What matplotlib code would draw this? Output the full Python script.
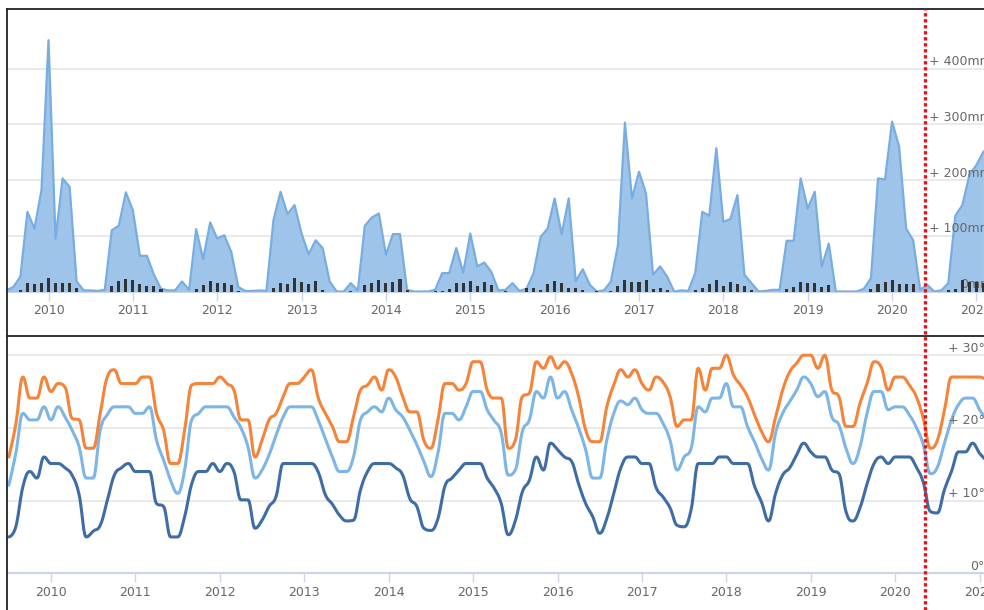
import matplotlib.pyplot as plt
from matplotlib.lines import Line2D
from matplotlib.transforms import blended_transform_factory
import numpy as np

plt.rcParams['font.family'] = ['DejaVu Sans']

# monthly values, July 2009 .. February 2021
first_month = 2009.5

precip_mm = [2, 8, 27, 143, 113, 182, 451, 95, 203, 188, 18, 2,
             2, 1, 3, 110, 118, 178, 146, 64, 64, 30, 5, 2,
             2, 18, 3, 112, 58, 124, 95, 101, 71, 8, 1, 1,
             2, 1, 128, 179, 139, 155, 104, 67, 92, 78, 18, 0,
             0, 15, 2, 118, 133, 140, 66, 103, 103, 3, 0, 0,
             0, 3, 33, 33, 78, 34, 104, 45, 52, 35, 2, 3,
             15, 1, 5, 33, 98, 113, 167, 103, 167, 19, 40, 12,
             0, 2, 18, 83, 303, 167, 215, 176, 30, 45, 27, 0,
             2, 1, 33, 143, 136, 257, 125, 130, 173, 30, 15, 0,
             1, 3, 3, 91, 91, 203, 149, 179, 45, 86, 0, 0,
             0, 0, 5, 24, 203, 201, 305, 260, 113, 92, 3, 12,
             0, 2, 15, 136, 155, 209, 227, 251]

rain_days = [0, 0, 2, 9, 8, 9, 14, 9, 9, 9, 4, 0,
             0, 0, 0, 6, 11, 13, 12, 8, 6, 6, 3, 0,
             0, 0, 0, 3, 7, 11, 9, 9, 7, 1, 0, 0,
             0, 0, 4, 9, 8, 14, 10, 8, 11, 2, 0, 0,
             0, 1, 0, 7, 9, 12, 9, 10, 13, 2, 0, 0,
             0, 1, 1, 3, 9, 9, 11, 6, 10, 7, 0, 1,
             0, 0, 4, 4, 2, 8, 11, 9, 4, 4, 2, 0,
             1, 0, 1, 6, 12, 10, 10, 12, 3, 4, 2, 0,
             0, 0, 2, 4, 8, 12, 6, 10, 8, 6, 2, 0,
             0, 0, 0, 3, 5, 10, 9, 9, 5, 7, 0, 0,
             0, 0, 0, 3, 8, 10, 12, 8, 8, 8, 0, 0,
             0, 0, 2, 3, 12, 10, 10, 9]

t_max = [16.0, 20.5, 27.0, 24.1, 24.1, 27.0, 25.0, 26.1, 25.6, 21.3, 21.1, 17.2,
         17.2, 22.0, 27.0, 28.0, 26.1, 26.1, 26.1, 27.0, 27.0, 22.0, 19.7, 15.1,
         15.1, 19.7, 25.9, 26.1, 26.1, 26.1, 27.0, 26.1, 25.2, 21.1, 21.1, 16.0,
         18.3, 21.1, 22.0, 24.3, 26.1, 26.1, 27.0, 28.0, 24.1, 22.0, 20.2, 18.1,
         18.1, 21.5, 25.2, 25.9, 27.0, 25.2, 28.0, 27.0, 24.3, 22.2, 22.2, 18.3,
         17.2, 21.1, 26.1, 26.1, 25.2, 26.1, 29.1, 29.1, 25.2, 24.1, 24.1, 17.2,
         18.3, 24.3, 24.8, 29.1, 28.2, 29.8, 28.2, 29.1, 27.5, 24.3, 19.7, 18.1,
         18.1, 22.9, 25.9, 28.0, 27.0, 28.0, 26.1, 25.2, 27.0, 26.3, 24.3, 20.2,
         21.1, 21.1, 28.2, 25.2, 28.2, 28.2, 30.0, 27.3, 25.9, 24.3, 21.8, 19.5,
         18.1, 21.5, 25.2, 27.7, 28.9, 30.0, 30.0, 28.2, 30.0, 25.2, 24.3, 20.2,
         20.2, 23.4, 26.1, 29.1, 28.4, 25.2, 27.0, 27.0, 25.9, 24.3, 21.3, 17.2,
         18.3, 22.4, 27.0, 27.0, 27.0, 27.0, 27.0, 26.6]

t_mean = [12.1, 16.5, 22.0, 21.1, 21.1, 22.9, 21.1, 22.9, 21.5, 19.7, 17.4, 13.1,
          13.1, 19.7, 21.8, 22.9, 22.9, 22.9, 22.0, 22.0, 22.9, 18.3, 15.6, 12.8,
          11.0, 14.2, 21.1, 22.0, 22.9, 22.9, 22.9, 22.9, 21.5, 20.0, 17.4, 13.1,
          14.2, 16.3, 19.0, 21.5, 22.9, 22.9, 22.9, 22.9, 21.0, 18.5, 16.0, 14.0,
          14.0, 16.0, 21.1, 22.2, 22.9, 22.2, 24.1, 22.5, 21.5, 19.7, 17.7, 15.4,
          13.3, 16.5, 22.0, 22.0, 21.1, 22.9, 25.0, 25.0, 22.5, 21.0, 19.3, 13.5,
          14.2, 19.5, 21.1, 25.0, 24.1, 27.0, 24.1, 25.0, 22.5, 20.0, 17.0, 13.1,
          13.1, 18.3, 22.0, 23.7, 23.2, 24.1, 22.5, 22.0, 22.0, 20.6, 18.3, 14.2,
          16.0, 17.2, 22.9, 22.2, 24.1, 24.1, 26.1, 22.9, 22.9, 20.2, 18.1, 15.8,
          14.2, 19.3, 22.0, 23.6, 25.2, 27.0, 26.1, 24.3, 25.0, 21.5, 20.4, 17.2,
          15.1, 17.4, 22.0, 25.0, 25.0, 22.5, 22.9, 22.9, 21.8, 20.1, 17.7, 13.7,
          14.6, 17.9, 21.1, 23.2, 24.1, 24.1, 22.5, 21.1]

t_min = [5.0, 6.4, 11.9, 14.0, 13.1, 16.0, 15.1, 15.1, 14.5, 13.5, 10.8, 5.0,
         5.8, 6.6, 10.0, 13.5, 14.5, 15.1, 14.0, 14.0, 14.0, 9.6, 9.2, 5.0,
         5.0, 7.8, 12.3, 14.0, 14.0, 15.1, 14.0, 15.1, 14.0, 10.1, 10.1, 6.2,
         7.3, 9.2, 10.6, 15.1, 15.1, 15.1, 15.1, 15.1, 13.9, 10.8, 9.5, 8.0,
         7.2, 7.3, 11.5, 14.0, 15.1, 15.1, 15.1, 14.5, 13.5, 10.3, 9.2, 6.2,
         5.9, 7.5, 12.0, 13.1, 14.2, 15.1, 15.1, 15.1, 13.1, 11.7, 9.6, 5.3,
         7.2, 11.2, 12.8, 16.0, 14.2, 17.9, 17.0, 16.0, 15.4, 12.3, 9.6, 7.8,
         5.5, 7.5, 11.0, 14.5, 16.0, 16.0, 15.1, 15.1, 11.8, 10.5, 9.0, 6.6,
         6.4, 8.8, 15.1, 15.1, 15.1, 16.0, 16.0, 15.1, 15.1, 15.1, 12.0, 9.8,
         7.2, 11.0, 13.5, 14.5, 16.3, 17.9, 16.7, 16.0, 16.0, 14.2, 13.7, 8.5,
         7.2, 9.0, 12.3, 15.1, 16.0, 15.1, 16.0, 16.0, 16.0, 14.6, 12.5, 8.5,
         8.3, 11.5, 14.0, 16.7, 16.7, 17.9, 16.5, 15.5]

years = list(range(2010, 2022))
precip_ticks = [100, 200, 300, 400]
temp_ticks = [10, 20, 30]
today = 2020.39


def spline(x, y, n=12):
    # highcharts-like smoothed curve through the monthly points
    x = np.asarray(x, float)
    y = np.asarray(y, float)
    k = len(x)
    lx, ly, rx, ry = x.copy(), y.copy(), x.copy(), y.copy()
    for i in range(1, k - 1):
        a = (1.5 * x[i] + x[i - 1]) / 2.5
        b = (1.5 * y[i] + y[i - 1]) / 2.5
        c = (1.5 * x[i] + x[i + 1]) / 2.5
        d = (1.5 * y[i] + y[i + 1]) / 2.5
        corr = (d - b) * (c - x[i]) / (c - a) + y[i] - d
        b += corr
        d += corr
        if b > y[i - 1] and b > y[i]:
            b = max(y[i - 1], y[i]); d = 2 * y[i] - b
        elif b < y[i - 1] and b < y[i]:
            b = min(y[i - 1], y[i]); d = 2 * y[i] - b
        if d > y[i + 1] and d > y[i]:
            d = max(y[i + 1], y[i]); b = 2 * y[i] - d
        elif d < y[i + 1] and d < y[i]:
            d = min(y[i + 1], y[i]); b = 2 * y[i] - d
        lx[i], ly[i], rx[i], ry[i] = a, b, c, d
    t = np.linspace(0, 1, n)[:, None]
    xs, ys = [], []
    for i in range(1, k):
        px = np.array([x[i - 1], rx[i - 1], lx[i], x[i]])
        py = np.array([y[i - 1], ry[i - 1], ly[i], y[i]])
        w = np.hstack([(1 - t) ** 3, 3 * (1 - t) ** 2 * t, 3 * (1 - t) * t ** 2, t ** 3])
        xs.append(w @ px)
        ys.append(w @ py)
    return np.concatenate(xs), np.concatenate(ys)


def main():
    W, H = 984, 610
    fig = plt.figure(figsize=(W / 100, H / 100), dpi=100)

    x = first_month + np.arange(len(precip_mm)) / 12
    xt = first_month + np.arange(len(t_max)) / 12

    axis_col = '#ccd6eb'
    grid_col = '#e6e6e6'
    text_col = '#666666'

    # precipitation panel
    ax1 = fig.add_axes([6.5 / W, 1 - 291.5 / H, 1003.5 / W, 282.5 / H])
    ax1.fill_between(x, precip_mm, color='#9fc4e9', lw=0)
    ax1.plot(x, precip_mm, color='#78ade2', lw=1.6)
    ax1.set_xlim(2009.502, 2021.398)
    ax1.set_ylim(0, 507)
    ax1.set_yticks(precip_ticks)
    ax1.grid(axis='y', color=grid_col, lw=1.2)
    ax1.set_axisbelow(True)

    axd = ax1.twinx()
    axd.bar(x, rain_days, width=0.036, color='#333333')
    axd.set_ylim(0, 282.5)
    axd.set_yticks([])
    for s in axd.spines.values():
        s.set_visible(False)

    # temperature panel
    ax2 = fig.add_axes([6.5 / W, 1 - 573.3 / H, 1003.5 / W, 237.3 / H])
    for vals, col in [(t_min, '#3e6ca6'), (t_mean, '#7db5e6'), (t_max, '#f5843a')]:
        sx, sy = spline(xt, vals)
        ax2.plot(sx, sy, color=col, lw=2.2, solid_capstyle='round')
    ax2.set_xlim(2009.473, 2021.360)
    ax2.set_ylim(0, 32.64)
    ax2.set_yticks(temp_ticks)
    ax2.grid(axis='y', color=grid_col, lw=1.2)
    ax2.set_axisbelow(True)

    for ax in (ax1, ax2):
        ax.set_xticks(years)
        ax.set_xticklabels([str(y) for y in years])
        ax.tick_params(axis='x', length=6.5, width=1, color=axis_col,
                       labelcolor=text_col, labelsize=9, pad=2.5)
        ax.tick_params(axis='y', left=False, labelleft=False)
        for s in ('top', 'left', 'right'):
            ax.spines[s].set_visible(False)
        ax.spines['bottom'].set_color(axis_col)
    ax2.spines['bottom'].set_linewidth(1.6)

    # right-hand axis labels, cut by the edge of the screenshot
    for v in precip_ticks:
        ax1.annotate(f'+ {v}mm', (929, v), xycoords=('figure pixels', 'data'),
                     xytext=(0, 7), textcoords='offset pixels',
                     va='center', ha='left', color=text_col, fontsize=9)
    ax1.annotate('0mm', (960, 0), xycoords=('figure pixels', 'data'),
                 xytext=(0, 7), textcoords='offset pixels',
                 va='center', ha='left', color=text_col, fontsize=9)
    for v in temp_ticks:
        ax2.annotate(f'+ {v}°c', (948, v), xycoords=('figure pixels', 'data'),
                     xytext=(0, 7), textcoords='offset pixels',
                     va='center', ha='left', color=text_col, fontsize=9)
    ax2.annotate('0°c', (970, 0), xycoords=('figure pixels', 'data'),
                 xytext=(0, 7), textcoords='offset pixels',
                 va='center', ha='left', color=text_col, fontsize=9)

    # frame of the screenshot
    fr = dict(transform=fig.transFigure, color='#222222', lw=1.3)
    fig.add_artist(Line2D([6.5 / W, 6.5 / W], [1 - 9 / H, 0], **fr))
    fig.add_artist(Line2D([6.5 / W, 1], [1 - 9 / H, 1 - 9 / H], **fr))
    fig.add_artist(Line2D([6.5 / W, 1], [1 - 336 / H, 1 - 336 / H], **fr))

    # current date marker
    tr = blended_transform_factory(ax1.transData, fig.transFigure)
    fig.add_artist(Line2D([today, today], [0, 1 - 9 / H], transform=tr,
                          color='#e3151b', lw=2.4, ls=(0, (1, 0.8)), zorder=5))

    fig.savefig('out.png', dpi=100)


if __name__ == '__main__':
    main()
